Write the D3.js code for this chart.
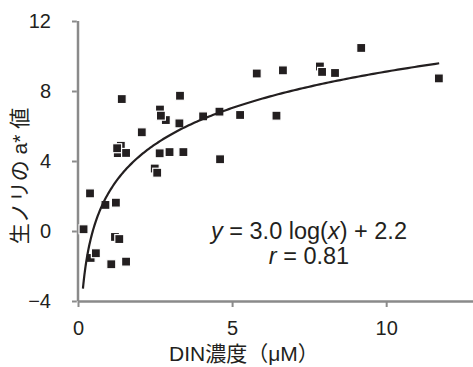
<!DOCTYPE html>
<html><head><meta charset="utf-8">
<script src="https://cdn.jsdelivr.net/npm/d3@7"></script>
<style>
html,body{margin:0;padding:0;background:#fff;}
svg text{font-family:"Liberation Sans",Arial,"Noto Sans CJK JP",sans-serif;fill:#231f20;}
</style></head>
<body><svg id="c" width="473" height="367"></svg>
<script>
// DIN concentration (µM) vs a* value; hidden/overlapped points listed first
const dinX = [0.41, 1.20, 1.39, 1.29, 2.66, 2.85, 2.49, 7.85,
  0.18, 0.39, 0.58, 0.89, 1.08, 1.23, 1.34, 1.56, 1.27, 1.56, 1.42, 2.07,
  2.69, 3.29, 3.31, 2.65, 2.97, 3.42, 2.57, 4.06, 4.59, 4.61, 5.26, 5.80,
  6.44, 6.65, 7.92, 8.34, 9.19, 11.71];
const aStar = [-1.54, -0.34, 4.87, 4.45, 6.94, 6.34, 3.57, 9.40,
  0.10, 2.15, -1.27, 1.49, -1.90, 1.62, -0.46, -1.75, 4.73, 4.46, 7.54, 5.64,
  6.59, 6.15, 7.73, 4.44, 4.51, 4.51, 3.33, 6.55, 6.82, 4.10, 6.63, 9.00,
  6.59, 9.18, 9.09, 9.03, 10.46, 8.72];
const yTicks = [-4, 0, 4, 8, 12];
const xTicks = [0, 5, 10];
// fitted curve y = a*log(x) + b, shown over the data range
const fitA = 3.0, fitB = 2.2, fitRange = [0.16, 11.72];

const svg = d3.select("#c");
const x = d3.scaleLinear().domain([0, 12.85]).range([78, 474]);
const y = d3.scaleLinear().domain([-4, 12]).range([301, 21]);
const axisColor = "#8a8a8a";

const gx = svg.append("g").attr("transform", "translate(0,301)")
  .call(d3.axisBottom(x).tickValues(xTicks).tickSize(6).tickSizeOuter(0).tickPadding(14));
const gy = svg.append("g").attr("transform", "translate(78,0)")
  .call(d3.axisLeft(y).tickValues(yTicks).tickSize(6).tickSizeOuter(0).tickPadding(21));
[gx, gy].forEach(g => {
  g.select(".domain").attr("stroke", axisColor).attr("stroke-width", 2.5);
  g.selectAll(".tick line").attr("stroke", axisColor).attr("stroke-width", 2);
  g.selectAll(".tick text").attr("font-size", 20).attr("fill", "#231f20")
   .style("font-family", '"Liberation Sans",Arial,sans-serif');
});
gy.select(".domain").attr("d", `M0,${y(12)}V${y(-4)}`);
gy.selectAll(".tick line").attr("x1", -1.2);

// points
svg.append("g").selectAll("rect").data(dinX.map((d, i) => [d, aStar[i]]))
  .join("rect")
  .attr("x", d => x(d[0]) - 4.5).attr("y", d => y(d[1]) - 4.5)
  .attr("width", 9).attr("height", 9)
  .attr("fill", "#231f20").attr("stroke", "#fff").attr("stroke-width", 1.2);

// fit curve
const steps = d3.range(0, 201).map(i => fitRange[0] + (fitRange[1] - fitRange[0]) * Math.pow(i / 200, 2));
svg.append("path")
  .attr("d", d3.line().x(d => x(d)).y(d => y(fitA * Math.log(d) + fitB))(steps))
  .attr("fill", "none").attr("stroke", "#231f20").attr("stroke-width", 2.2);

// annotations
const eq = svg.append("text").attr("x", 309).attr("y", 239).attr("text-anchor", "middle").attr("font-size", 23.5);
eq.append("tspan").attr("font-style", "italic").text("y");
eq.append("tspan").text(" = 3.0 log(");
eq.append("tspan").attr("font-style", "italic").text("x");
eq.append("tspan").text(") + 2.2");
const rt = svg.append("text").attr("x", 309).attr("y", 264).attr("text-anchor", "middle").attr("font-size", 23.5);
rt.append("tspan").attr("font-style", "italic").text("r");
rt.append("tspan").text(" = 0.81");

// axis titles
svg.append("text").attr("x", 244).attr("y", 361).attr("text-anchor", "middle")
  .attr("font-size", 21).text("DIN濃度（μM）");
svg.append("text").attr("transform", "translate(27,176) rotate(-90)")
  .attr("text-anchor", "middle").attr("font-size", 21).text("生ノリの a* 値");
</script></body></html>
